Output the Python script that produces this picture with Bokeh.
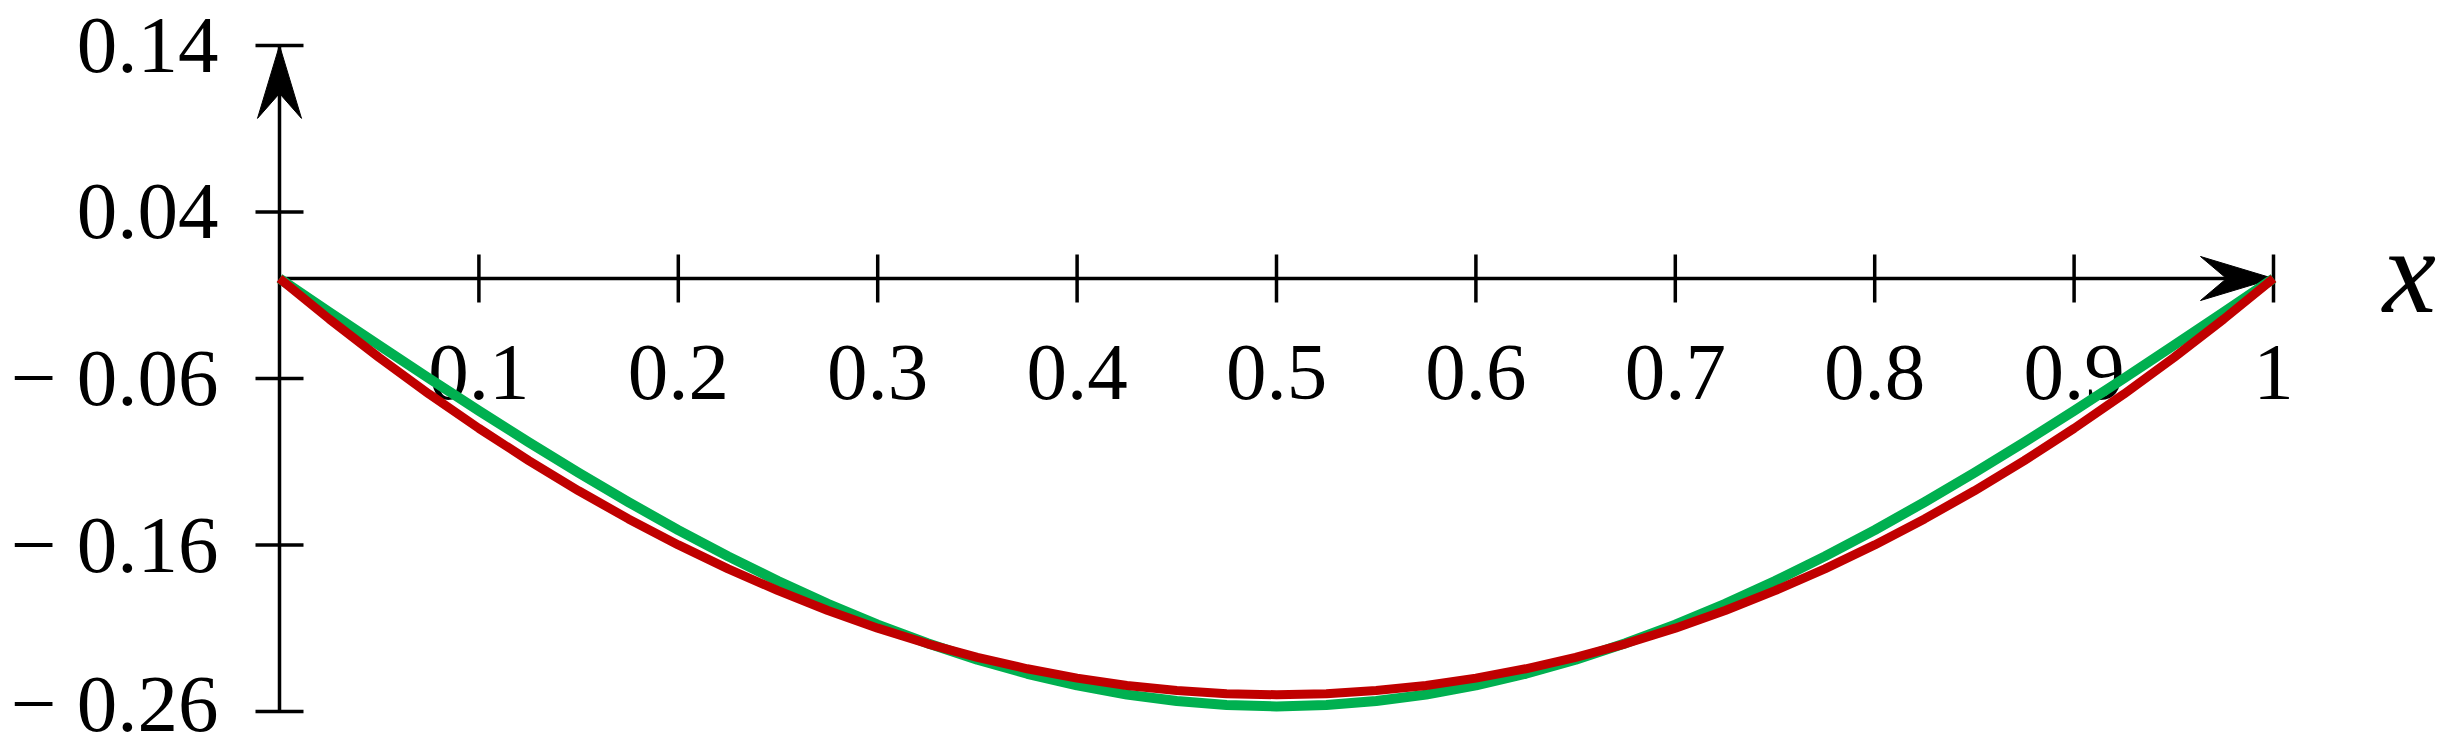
"""Two deflection curves on hand-drawn centred axes."""

from bokeh.core.properties import value
from bokeh.embed import file_html
from bokeh.plotting import figure
from bokeh.resources import INLINE

# values
x_vals = [0.0, 0.025, 0.05, 0.075, 0.1, 0.125, 0.15, 0.175, 0.2, 0.225, 0.25,
          0.275, 0.3, 0.325, 0.35, 0.375, 0.4, 0.425, 0.45, 0.475, 0.5,
          0.525, 0.55, 0.575, 0.6, 0.625, 0.65, 0.675, 0.7, 0.725, 0.75,
          0.775, 0.8, 0.825, 0.85, 0.875, 0.9, 0.925, 0.95, 0.975, 1.0]
green_vals = [0.0, -0.0202, -0.0402, -0.0600, -0.0794, -0.0984, -0.1167, -0.1343, -0.1511, -0.1669,
              -0.1817, -0.1954, -0.2079, -0.2191, -0.2290, -0.2374, -0.2444, -0.2499, -0.2538, -0.2562,
              -0.2570,
              -0.2562, -0.2538, -0.2499, -0.2444, -0.2374, -0.2290, -0.2191, -0.2079, -0.1954, -0.1817,
              -0.1669, -0.1511, -0.1343, -0.1167, -0.0984, -0.0794, -0.0600, -0.0402, -0.0202, 0.0]
red_vals = [0.0, -0.0244, -0.0475, -0.0694, -0.0900, -0.1094, -0.1275, -0.1444, -0.1600, -0.1744,
            -0.1875, -0.1994, -0.2100, -0.2194, -0.2275, -0.2344, -0.2400, -0.2444, -0.2475, -0.2494,
            -0.2500,
            -0.2494, -0.2475, -0.2444, -0.2400, -0.2344, -0.2275, -0.2194, -0.2100, -0.1994, -0.1875,
            -0.1744, -0.1600, -0.1444, -0.1275, -0.1094, -0.0900, -0.0694, -0.0475, -0.0244, 0.0]

x_ticks = [0.1, 0.2, 0.3, 0.4, 0.5, 0.6, 0.7, 0.8, 0.9, 1.0]
x_tick_labels = ["0.1", "0.2", "0.3", "0.4", "0.5", "0.6", "0.7", "0.8", "0.9", "1"]
y_ticks = [0.14, 0.04, -0.06, -0.16, -0.26]
y_tick_labels = ["0.14", "0.04", "\u2212 0.06", "\u2212 0.16", "\u2212 0.26"]

W, H = 2455, 750
# pixels per data unit, and where the origin sits inside the frame
XS, YS = 1994.0, 1665.0
OX, OY = 279.0, 278.0


def dx(px):
    return px / XS


def dy(px):
    return px / YS


y_bottom = (OY - H) / YS

p = figure(
    width=W,
    height=H,
    x_range=(-OX / XS, (W - OX) / XS),
    y_range=(y_bottom, OY / YS),
    x_axis_location=None,
    y_axis_location=None,
    toolbar_location=None,
    output_backend="svg",
    min_border=0,
    outline_line_color=None,
    background_fill_color="white",
)
p.grid.visible = False

AX = "black"
AXW = 3.5
TICK = 24
FS = 81

# axes
p.segment(x0=[0], y0=[0], x1=[1], y1=[0], line_color=AX, line_width=AXW)
p.segment(x0=[0], y0=[min(y_ticks)], x1=[0], y1=[max(y_ticks)], line_color=AX, line_width=AXW)

# tick marks
p.segment(x0=x_ticks, y0=[dy(TICK)] * len(x_ticks), x1=x_ticks, y1=[-dy(TICK)] * len(x_ticks),
          line_color=AX, line_width=AXW)
p.segment(x0=[-dx(TICK)] * len(y_ticks), y0=y_ticks, x1=[dx(TICK)] * len(y_ticks), y1=y_ticks,
          line_color=AX, line_width=AXW)

# arrow heads
x_end, y_top = max(x_ticks), max(y_ticks)
p.patch(x=[x_end, x_end - dx(73), x_end - dx(47), x_end - dx(73)],
        y=[0, dy(22), 0, -dy(22)], fill_color=AX, line_color=AX, line_width=1)
p.patch(x=[0, dx(22), 0, -dx(22)],
        y=[y_top, y_top - dy(73), y_top - dy(48), y_top - dy(73)], fill_color=AX, line_color=AX, line_width=1)

# tick labels (keep the lowest one's text box inside the canvas)
font = value("Liberation Serif")
y_label_pos = [max(v, y_bottom + dy(0.57 * FS)) for v in y_ticks]
p.text(x=x_ticks, y=[-dy(94)] * len(x_ticks), text=x_tick_labels, text_font=font,
       text_font_size=value(f"{FS}px"), text_align="center", text_baseline="middle", text_color=AX)
p.text(x=[-dx(61)] * len(y_ticks), y=y_label_pos, text=y_tick_labels, text_font=font,
       text_font_size=value(f"{FS}px"), text_align="right", text_baseline="middle", text_color=AX)
p.text(x=[1 + dx(136)], y=[dy(7)], text=["x"], text_font=font, text_font_style="italic",
       text_font_size=value("120px"), text_align="center", text_baseline="middle", text_color=AX)

# curves
p.line(x_vals, green_vals, line_color="#00B050", line_width=10, line_join="round")
p.line(x_vals, red_vals, line_color="#C00000", line_width=9, line_join="round")

open("out.html", "w").write(file_html(p, INLINE))
